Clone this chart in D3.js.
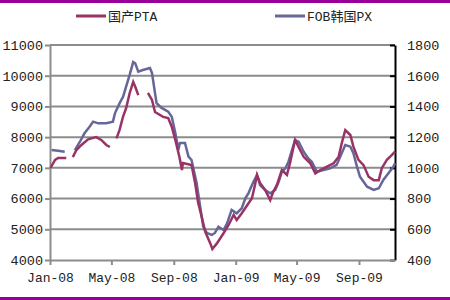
<!DOCTYPE html>
<html>
<head>
<meta charset="utf-8">
<script src="https://cdn.jsdelivr.net/npm/d3@7"></script>
<style>
  body { margin: 0; background: #fff; }
  svg { display: block; }
</style>
</head>
<body>
<div id="chart"></div>
<script>
// series (null = gap in the data)
var ptaDates = ["2008-01-02","2008-01-11","2008-01-17","2008-02-02","2008-02-10","2008-02-15","2008-02-22","2008-03-03","2008-03-16","2008-04-01","2008-04-11","2008-04-21","2008-04-28","2008-05-05","2008-05-11","2008-05-17","2008-05-24","2008-05-30","2008-06-06","2008-06-13","2008-06-18","2008-06-23","2008-07-01","2008-07-12","2008-07-20","2008-07-26","2008-08-11","2008-08-21","2008-08-28","2008-09-04","2008-09-12","2008-09-17","2008-09-19","2008-10-06","2008-10-13","2008-10-19","2008-10-26","2008-11-02","2008-11-12","2008-11-16","2008-11-25","2008-12-08","2008-12-18","2008-12-28","2009-01-03","2009-01-13","2009-02-02","2009-02-08","2009-02-12","2009-02-18","2009-02-28","2009-03-10","2009-03-16","2009-03-23","2009-04-02","2009-04-12","2009-04-18","2009-04-28","2009-05-08","2009-05-15","2009-05-28","2009-06-07","2009-06-17","2009-06-30","2009-07-13","2009-07-23","2009-07-29","2009-08-05","2009-08-15","2009-08-21","2009-08-31","2009-09-10","2009-09-20","2009-09-30","2009-10-10","2009-10-16","2009-10-26","2009-11-05","2009-11-11"];
var ptaValues = [7000,7260,7320,7320,null,7350,7580,7745,7930,8000,7910,7745,7680,null,7960,8230,8670,8940,9430,9800,9600,9370,null,9440,9210,8820,8660,8620,8340,7910,7360,6930,7160,7090,6510,5860,5410,4920,4540,4360,4540,4870,5140,5470,5300,5520,6010,6440,6770,6510,6280,5950,6220,6440,6930,6770,7150,7910,7580,7360,7150,6820,6930,7040,7150,7360,7800,8230,8070,7690,7260,7090,6710,6600,6600,6990,7260,7420,7530];

var pxDates = ["2008-01-04","2008-01-17","2008-01-30","2008-02-08","2008-02-19","2008-02-29","2008-03-09","2008-03-19","2008-03-26","2008-04-05","2008-04-21","2008-05-04","2008-05-08","2008-05-17","2008-05-24","2008-05-30","2008-06-06","2008-06-13","2008-06-17","2008-06-23","2008-07-02","2008-07-16","2008-07-20","2008-07-26","2008-07-29","2008-08-08","2008-08-21","2008-08-28","2008-09-04","2008-09-10","2008-09-13","2008-09-23","2008-09-30","2008-10-06","2008-10-16","2008-10-23","2008-10-29","2008-11-05","2008-11-15","2008-11-21","2008-11-28","2008-12-08","2008-12-15","2008-12-24","2009-01-03","2009-01-13","2009-01-20","2009-01-26","2009-02-05","2009-02-12","2009-02-18","2009-02-28","2009-03-10","2009-03-20","2009-03-27","2009-04-02","2009-04-09","2009-04-15","2009-04-22","2009-04-28","2009-05-05","2009-05-15","2009-05-24","2009-05-31","2009-06-10","2009-06-23","2009-07-06","2009-07-19","2009-07-29","2009-08-05","2009-08-15","2009-08-21","2009-08-28","2009-09-03","2009-09-17","2009-09-30","2009-10-10","2009-10-19","2009-10-29","2009-11-08","2009-11-11"];
var pxValues = [1116,1112,1105,null,1116,1170,1225,1268,1301,1290,1290,1301,1355,1420,1463,1529,1605,1689,1681,1626,1637,1650,1618,1487,1422,1390,1366,1333,1227,1116,1162,1162,1073,1051,901,747,617,576,563,576,617,595,639,726,704,737,802,834,910,954,888,856,834,856,910,975,997,1040,1116,1181,1170,1105,1062,1040,975,986,997,1019,1095,1149,1138,1095,1008,942,877,856,867,921,965,1008,1030];

var leftTicks = [4000,5000,6000,7000,8000,9000,10000,11000];
var rightTicks = [400,600,800,1000,1200,1400,1600,1800];
var xTickDates = ["2008-01-01","2008-05-01","2008-09-01","2009-01-01","2009-05-01","2009-09-01"];
var seriesNames = ["国产PTA", "FOB韩国PX"];
var seriesColors = ["#993366", "#666699"];

var parse = d3.timeParse("%Y-%m-%d");
var FONT = "'Liberation Mono', 'Noto Sans CJK SC', monospace";
var W = 450, H = 300;
var plotL = 50, plotR = 395, plotT = 45, plotB = 260;

var svg = d3.select("#chart").append("svg").attr("width", W).attr("height", H);

// purple rules top and bottom
svg.append("rect").attr("x", 0).attr("y", 0).attr("width", W).attr("height", 3).attr("fill", "#990099");
svg.append("rect").attr("x", 0).attr("y", 297).attr("width", W).attr("height", 3).attr("fill", "#990099");

var x = d3.scaleTime().domain([parse("2008-01-01"), parse("2009-11-11")]).range([plotL, plotR]);
var yL = d3.scaleLinear().domain([4000, 11000]).range([plotB, plotT]);
var yR = d3.scaleLinear().domain([400, 1800]).range([plotB, plotT]);

// gridlines
svg.append("g").selectAll("line").data(leftTicks.slice(1)).enter().append("line")
  .attr("x1", plotL).attr("x2", plotR)
  .attr("y1", function(d) { return yL(d); }).attr("y2", function(d) { return yL(d); })
  .attr("stroke", "#8c8c8c").attr("stroke-width", 2);

// left axis
var gL = svg.append("g").attr("transform", "translate(" + plotL + ",0)")
  .call(d3.axisLeft(yL).tickValues(leftTicks).tickFormat(d3.format("d"))
    .tickSize(5).tickSizeOuter(0).tickPadding(2));
gL.select(".domain").attr("stroke", "#8c8c8c").attr("stroke-width", 2);
gL.selectAll(".tick line").attr("stroke", "#8c8c8c").attr("stroke-width", 2);
gL.selectAll("text").attr("font-family", FONT).attr("font-size", 13.5).attr("fill", "#222");

// right axis, ticks pointing inward
var gR = svg.append("g").attr("transform", "translate(" + plotR + ",0)")
  .call(d3.axisRight(yR).tickValues(rightTicks).tickFormat(d3.format("d"))
    .tickSize(-5).tickSizeOuter(0).tickPadding(12));
gR.select(".domain").attr("stroke", "#000").attr("stroke-width", 2);
gR.selectAll(".tick line").attr("stroke", "#000").attr("stroke-width", 2);
gR.selectAll("text").attr("font-family", FONT).attr("font-size", 13.5).attr("fill", "#222");

// bottom axis
var gB = svg.append("g").attr("transform", "translate(0," + plotB + ")")
  .call(d3.axisBottom(x).tickValues(xTickDates.map(parse)).tickFormat(d3.timeFormat("%b-%y"))
    .tickSize(5).tickSizeOuter(0).tickPadding(8));
gB.select(".domain").attr("stroke", "#8c8c8c").attr("stroke-width", 2);
gB.selectAll(".tick line").attr("stroke", "#8c8c8c").attr("stroke-width", 2);
gB.selectAll("text").attr("font-family", FONT).attr("font-size", 13).attr("fill", "#222");

// lines
var linePTA = d3.line()
  .defined(function(d) { return d[1] != null; })
  .x(function(d) { return x(d[0]); })
  .y(function(d) { return yL(d[1]); });
var linePX = d3.line()
  .defined(function(d) { return d[1] != null; })
  .x(function(d) { return x(d[0]); })
  .y(function(d) { return yR(d[1]); });

svg.append("path")
  .datum(pxDates.map(function(d, i) { return [parse(d), pxValues[i]]; }))
  .attr("d", linePX).attr("fill", "none")
  .attr("stroke", seriesColors[1]).attr("stroke-width", 2.5);

svg.append("path")
  .datum(ptaDates.map(function(d, i) { return [parse(d), ptaValues[i]]; }))
  .attr("d", linePTA).attr("fill", "none")
  .attr("stroke", seriesColors[0]).attr("stroke-width", 2.5);

// legend
var legendX = [76, 275];
var lg = svg.append("g").selectAll("g").data(seriesNames).enter().append("g")
  .attr("transform", function(d, i) { return "translate(" + legendX[i] + ",16)"; });
lg.append("line").attr("x1", 0).attr("x2", 30).attr("y1", 0).attr("y2", 0)
  .attr("stroke", function(d, i) { return seriesColors[i]; }).attr("stroke-width", 3);
lg.append("text").attr("x", 32).attr("y", 5)
  .attr("font-family", FONT).attr("font-size", 13).attr("fill", "#222")
  .text(function(d) { return d; });
</script>
</body>
</html>
